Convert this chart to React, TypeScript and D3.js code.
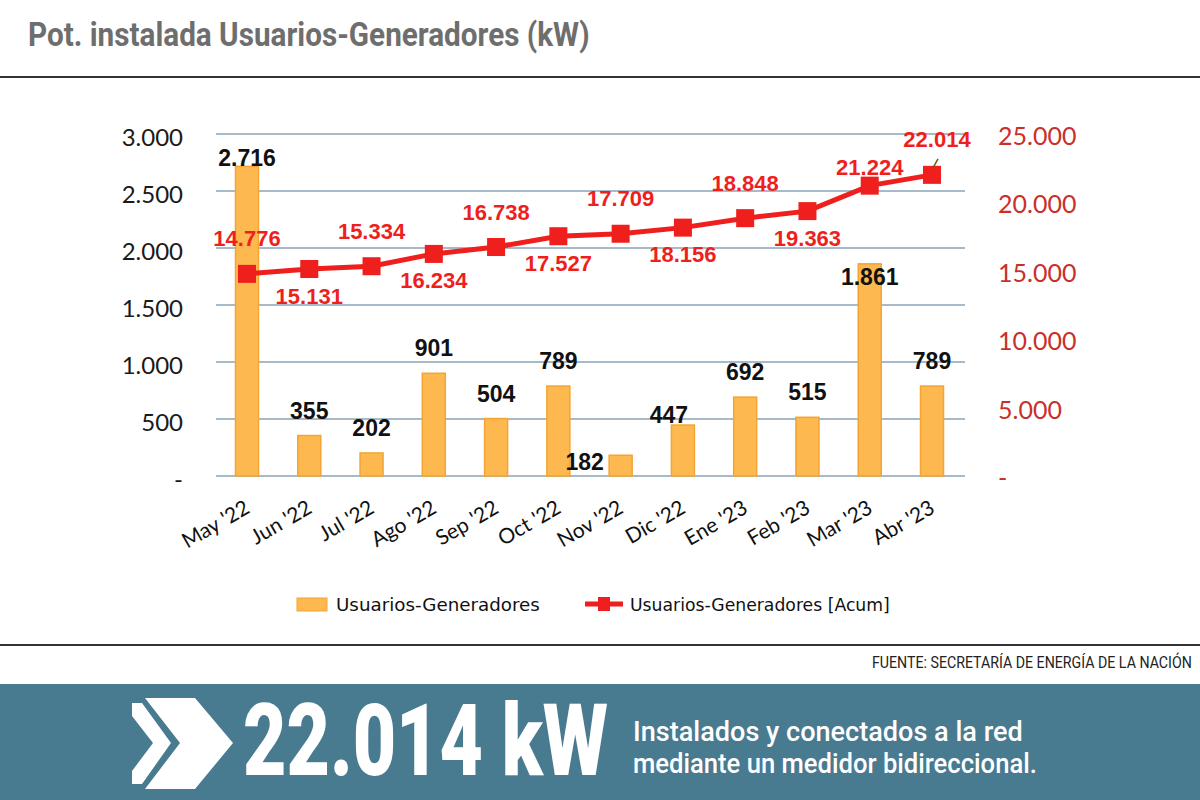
import React, { useEffect, useRef } from "react";
import * as d3 from "d3";

// Monthly installed power (kW) and the accumulated total
const months = ["May '22", "Jun '22", "Jul '22", "Ago '22", "Sep '22", "Oct '22", "Nov '22", "Dic '22", "Ene '23", "Feb '23", "Mar '23", "Abr '23"];
const monthly = [2716, 355, 202, 901, 504, 789, 182, 447, 692, 515, 1861, 789];
const accum = [14776, 15131, 15334, 16234, 16738, 17527, 17709, 18156, 18848, 19363, 21224, 22014];
const leftTicks = [0, 500, 1000, 1500, 2000, 2500, 3000];
const rightTicks = [0, 5000, 10000, 15000, 20000, 25000];

const BAR = "#fdb94f";
const BAR_EDGE = "#f3a433";
const RED = "#ee1f1c";
const AXIS_RED = "#c9302a";
const GRID = "#8aa3b8";

type Sel = d3.Selection<any, unknown, null, undefined>;

// squeeze a text horizontally to a given width (fonts here are condensed)
const fitText = (parent: Sel, x: number, y: number, width: number, txt: string, font: string, size: number, weight: number, fill: string) => {
  const g = parent.append("g").attr("transform", `translate(${x},${y})`);
  const t = g
    .append("text")
    .style("font-family", font)
    .style("font-size", `${size}px`)
    .style("font-weight", weight)
    .attr("fill", fill)
    .text(txt);
  const len = (t.node() as SVGTextElement).getComputedTextLength() || width;
  g.attr("transform", `translate(${x},${y}) scale(${width / len},1)`);
  return g;
};

const App = () => {
  const ref = useRef<SVGSVGElement | null>(null);

  useEffect(() => {
    document.body.style.margin = "0";
    const svg = d3.select(ref.current);
    svg.selectAll("*").remove();

    // spanish number format: 22.014
    const loc = d3.formatLocale({ decimal: ",", thousands: ".", grouping: [3], currency: ["$", ""] });
    const fmt = (v: number) => (v === 0 ? "-" : loc.format(",d")(v));

    const x = d3.scalePoint().domain(months).range([247, 932]);
    const yL = d3.scaleLinear().domain([0, 3000]).range([476, 134]);
    const yR = d3.scaleLinear().domain([0, 25000]).range([476, 134]);
    const barW = 23;

    svg.append("rect").attr("width", 1200).attr("height", 800).attr("fill", "#fff");

    // Title + rules
    fitText(svg as Sel, 28, 46, 562, "Pot. instalada Usuarios-Generadores (kW)", "Roboto", 33, 700, "#6e6e6e");
    svg.append("line").attr("x1", 0).attr("x2", 1200).attr("y1", 77).attr("y2", 77).attr("stroke", "#333").attr("stroke-width", 2);
    svg.append("line").attr("x1", 0).attr("x2", 1200).attr("y1", 645).attr("y2", 645).attr("stroke", "#333").attr("stroke-width", 2);

    // Gridlines (left axis)
    svg
      .append("g")
      .selectAll("line")
      .data(leftTicks)
      .join("line")
      .attr("x1", 216)
      .attr("x2", 965)
      .attr("y1", (d) => yL(d))
      .attr("y2", (d) => yL(d))
      .attr("stroke", GRID)
      .attr("stroke-width", 1.5);

    // Left axis labels
    svg
      .append("g")
      .selectAll("text")
      .data(leftTicks)
      .join("text")
      .attr("x", 183)
      .attr("y", (d) => yL(d) + 2)
      .attr("text-anchor", "end")
      .attr("dominant-baseline", "central")
      .style("font-family", "Lato")
      .style("font-size", "24px")
      .attr("fill", "#1a1a1a")
      .text(fmt);

    // Right axis labels
    svg
      .append("g")
      .selectAll("text")
      .data(rightTicks)
      .join("text")
      .attr("x", 998)
      .attr("y", (d) => yR(d) + 1)
      .attr("dominant-baseline", "central")
      .style("font-family", "Lato")
      .style("font-size", "25px")
      .attr("fill", AXIS_RED)
      .text(fmt);

    // Bars
    svg
      .append("g")
      .selectAll("rect")
      .data(monthly)
      .join("rect")
      .attr("x", (_, i) => (x(months[i]) as number) - barW / 2)
      .attr("y", (d) => yL(d))
      .attr("width", barW)
      .attr("height", (d) => yL(0) - yL(d))
      .attr("fill", BAR)
      .attr("stroke", BAR_EDGE)
      .attr("stroke-width", 1.5);

    // Accumulated line
    const line = d3
      .line<number>()
      .x((_, i) => x(months[i]) as number)
      .y((d) => yR(d));
    svg.append("path").datum(accum).attr("d", line).attr("fill", "none").attr("stroke", RED).attr("stroke-width", 5);
    svg
      .append("g")
      .selectAll("rect")
      .data(accum)
      .join("rect")
      .attr("x", (_, i) => (x(months[i]) as number) - 9)
      .attr("y", (d) => yR(d) - 9)
      .attr("width", 18)
      .attr("height", 18)
      .attr("fill", RED);

    // leader for the last label
    const lastX = x(months[months.length - 1]) as number;
    const lastY = yR(accum[accum.length - 1]);
    svg
      .append("line")
      .attr("x1", lastX + 1)
      .attr("y1", lastY - 7)
      .attr("x2", lastX + 6)
      .attr("y2", lastY - 16)
      .attr("stroke", "#6b5a1e")
      .attr("stroke-width", 1.5);

    // Line labels, alternating above / below
    const n = accum.length;
    svg
      .append("g")
      .selectAll("text")
      .data(accum)
      .join("text")
      .attr("x", (_, i) => (x(months[i]) as number) + (i === n - 1 ? 5 : 0))
      .attr("y", (d, i) => {
        if (i === n - 2) return yR(d) - 18;
        if (i === n - 1 || i % 2 === 0) return yR(d) - 35;
        return yR(d) + 27;
      })
      .attr("text-anchor", "middle")
      .attr("dominant-baseline", "central")
      .style("font-family", "Liberation Sans")
      .style("font-weight", 700)
      .style("font-size", "22px")
      .attr("fill", RED)
      .text(fmt);

    // Bar labels
    svg
      .append("g")
      .selectAll("text")
      .data(monthly)
      .join("text")
      .attr("x", (_, i) => (x(months[i]) as number) - (i === 6 ? 36 : i === 7 ? 14 : 0))
      .attr("y", (d, i) => {
        if (i === 0) return yL(d) - 8; // tall bar, label hugs the top
        if (i === 10) return yL(d) + 13; // sits over the bar, below the line
        if (i === 6) return yL(d) + 7;
        if (i === 7) return yL(d) - 10;
        return yL(d) - 25;
      })
      .attr("text-anchor", "middle")
      .attr("dominant-baseline", "central")
      .style("font-family", "Liberation Sans")
      .style("font-weight", 700)
      .style("font-size", "23px")
      .attr("fill", "#111")
      .text(fmt);

    // X axis labels, rotated
    svg
      .append("g")
      .selectAll("text")
      .data(months)
      .join("text")
      .attr("transform", (d) => `translate(${(x(d) as number) + 4},512) rotate(-30)`)
      .attr("text-anchor", "end")
      .style("font-family", "Lato")
      .style("font-size", "21px")
      .attr("fill", "#111")
      .text((d) => d);

    // Legend
    const lg = svg.append("g");
    lg.append("rect").attr("x", 297).attr("y", 598).attr("width", 30).attr("height", 13).attr("fill", BAR).attr("stroke", BAR_EDGE);
    fitText(lg as Sel, 336, 611, 204, "Usuarios-Generadores", "DejaVu Sans", 17, 400, "#111");
    lg.append("line").attr("x1", 585).attr("x2", 623).attr("y1", 604).attr("y2", 604).attr("stroke", RED).attr("stroke-width", 5);
    lg.append("rect").attr("x", 598).attr("y", 597).attr("width", 12).attr("height", 14).attr("fill", RED);
    fitText(lg as Sel, 630, 611, 260, "Usuarios-Generadores [Acum]", "DejaVu Sans", 17, 400, "#111");

    // Source
    fitText(svg as Sel, 872, 668, 320, "FUENTE: SECRETARÍA DE ENERGÍA DE LA NACIÓN", "Roboto", 16, 400, "#222");

    // Bottom banner
    svg.append("rect").attr("x", 0).attr("y", 684).attr("width", 1200).attr("height", 116).attr("fill", "#487a90");
    svg
      .append("polygon")
      .attr("points", "132,703 142,703 171,743 142,784 132,784 132,771 153,743 132,716")
      .attr("fill", "#fff");
    svg
      .append("polygon")
      .attr("points", "145,698 195,698 233,743 195,789 145,789 180,743")
      .attr("fill", "#fff");
    fitText(svg as Sel, 243, 775, 365, "22.014 kW", "Roboto", 100, 900, "#fff");
    fitText(svg as Sel, 633, 741, 390, "Instalados y conectados a la red", "Roboto", 28, 500, "#fff");
    fitText(svg as Sel, 633, 773, 404, "mediante un medidor bidireccional.", "Roboto", 28, 500, "#fff");
  }, []);

  return <svg ref={ref} width={1200} height={800} style={{ display: "block" }}></svg>;
};

export default App;
